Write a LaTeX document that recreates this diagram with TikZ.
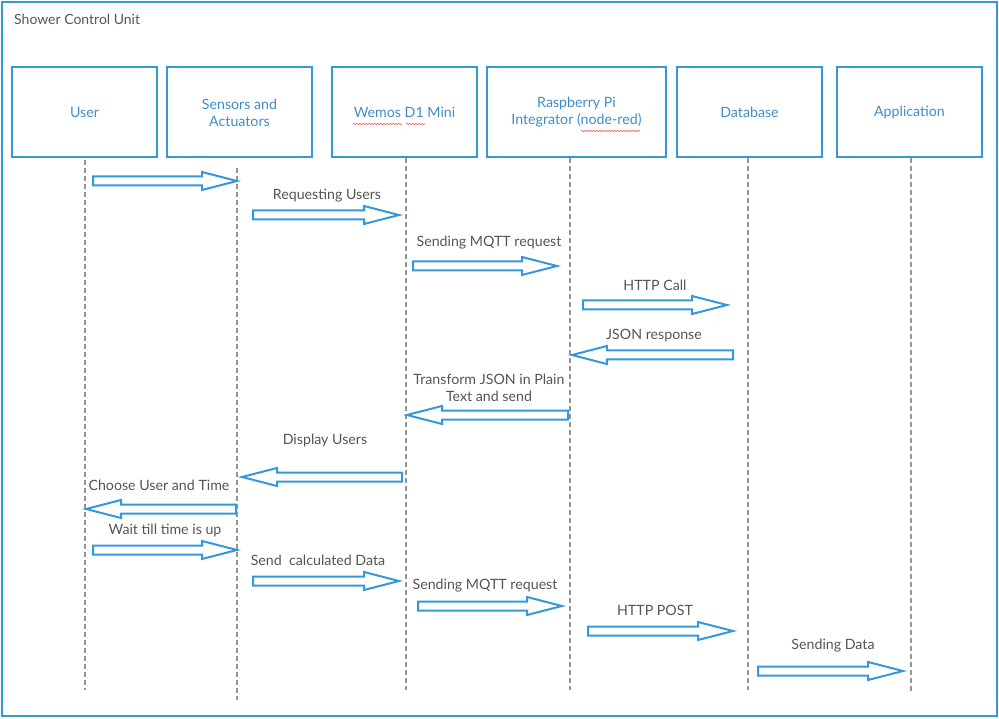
\documentclass[tikz,border=0pt]{standalone}
\usepackage{fontspec}
\setmainfont{Lato}
\usetikzlibrary{calc,decorations.pathmorphing}
\definecolor{frameblue}{RGB}{52,152,219}
\definecolor{textblue}{RGB}{64,140,200}
\definecolor{labelgray}{RGB}{85,85,85}
\definecolor{lifegray}{RGB}{150,150,150}
\definecolor{spellred}{RGB}{240,110,110}
\tikzset{
  actor/.style={draw=frameblue, line width=2pt, minimum width=145pt, minimum height=90pt,
    inner sep=0pt, text=textblue, align=center, font=\fontsize{14.2}{17}\selectfont},
  lifeline/.style={draw=lifegray, line width=1.5pt, dash pattern=on 5pt off 3pt},
  msg/.style={draw=frameblue, line width=2pt, line join=miter,
    to path={let \p1=(\tikztostart), \p2=(\tikztotarget), \n1={sign(\x2-\x1)} in
      ({\x1},{\y1+4.5pt}) -- ({\x2-\n1*35pt},{\y1+4.5pt}) -- ({\x2-\n1*35pt},{\y1+9pt})
      -- (\x2,\y1) -- ({\x2-\n1*35pt},{\y1-9pt}) -- ({\x2-\n1*35pt},{\y1-4.5pt})
      -- ({\x1},{\y1-4.5pt}) -- cycle}},
  lbl/.style={text=labelgray, align=center, inner sep=0pt, font=\fontsize{14.2}{17}\selectfont},
  spell/.style={draw=spellred, line width=0.7pt, decorate,
    decoration={snake, amplitude=0.8pt, segment length=3pt}}
}
\begin{document}
\begin{tikzpicture}[x=1pt,y=-1pt]
  \useasboundingbox (0,0) rectangle (999,719);
  \draw[frameblue, line width=2pt] (2,2) rectangle (997,716);
  \node[lbl, anchor=west, font=\fontsize{14}{17}\selectfont] (title) at (14,19.5) {Shower Control Unit};

  % participants
  \node[actor] (user) at (84.5,112) {User};
  \node[actor] (sens) at (239.5,112.5) {Sensors and\\Actuators};
  \node[actor] (wemos) at (404.5,112) {Wemos D1 Mini};
  \node[actor, minimum width=179pt] (rpi) at (576.5,112.5) {Raspberry Pi\\Integrator (node-red)};
  \node[actor] (db) at (749.5,112) {Database};
  \node[actor] (app) at (909.5,112) {Application};

  \draw[spell] (353,124) -- (402,124);
  \draw[spell] (406,124) -- (425,124);
  \draw[spell] (581,131) -- (640,131);

  % lifelines
  \foreach \n/\x/\a/\b in {user/85/160/690, sens/237/168/700, wemos/406/158/690,
      rpi/570/158/690, db/748/158/690, app/911/158/692}
  {
    \coordinate (\n top) at (\x,\a);
    \coordinate (\n end) at (\x,\b);
    \draw[lifeline] (\n top) -- (\n end);
  }

  % messages
  \foreach \i/\xa/\xb/\y in {1/93/237/181, 2/253/399/215, 3/413/557/266, 4/583/727/305,
      5/733/572/355, 6/568/407/415, 7/402/242/477, 8/236/86/509, 9/93/237/550,
      10/253/399/581, 11/418/562/606, 12/588/733/631, 13/758/903/671}
  {
    \coordinate (m\i s) at (\xa,\y);
    \coordinate (m\i e) at (\xb,\y);
    \draw[msg] (m\i s) to (m\i e);
  }

  \node[lbl] (l2) at (327,195.5) {Requesting Users};
  \node[lbl] (l3) at (489,242.5) {Sending MQTT request};
  \node[lbl] (l4) at (655,285.5) {HTTP Call};
  \node[lbl] (l5) at (654,335.5) {JSON response};
  \node[lbl] (l6) at (489,388) {Transform JSON in Plain\\Text and send};
  \node[lbl] (l7) at (325,440.5) {Display Users};
  \node[lbl] (l8) at (159,485.5) {Choose User and Time};
  \node[lbl] (l9) at (165,530.5) {Wait till time is up};
  \node[lbl] (l10) at (318,560.5) {Send\ \ calculated Data};
  \node[lbl] (l11) at (485,585.5) {Sending MQTT request};
  \node[lbl] (l12) at (655,610.5) {HTTP POST};
  \node[lbl] (l13) at (833,645.5) {Sending Data};
\end{tikzpicture}
\end{document}
